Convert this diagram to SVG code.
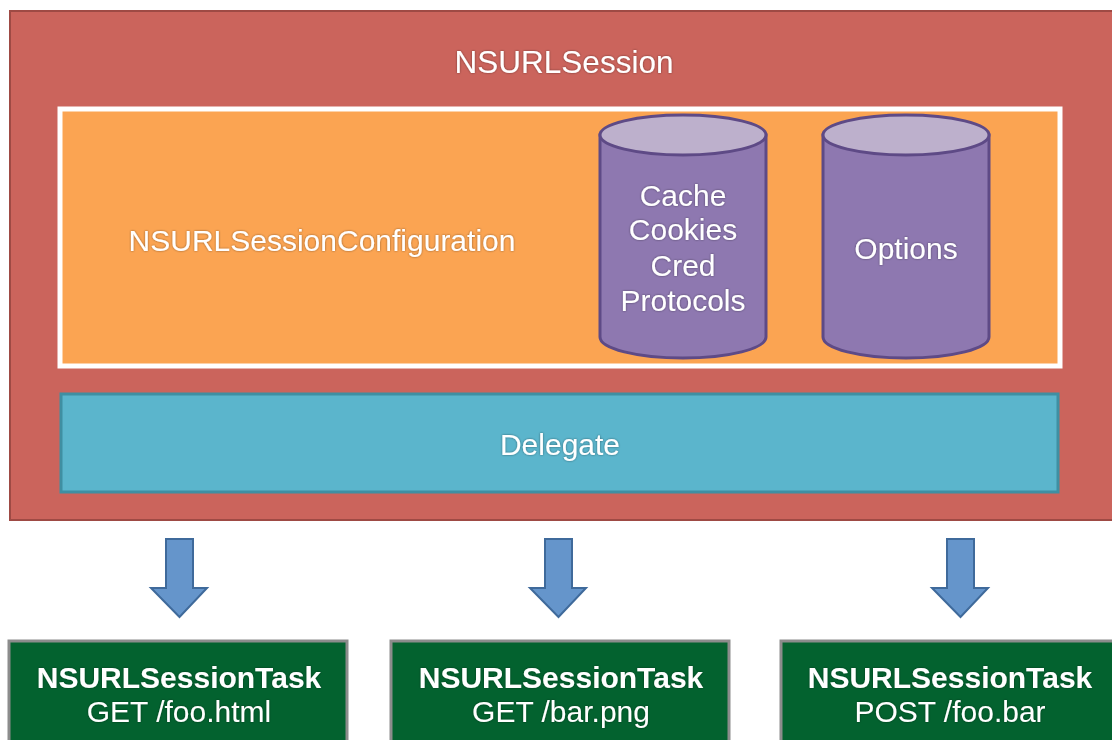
<svg xmlns="http://www.w3.org/2000/svg" width="1112" height="740" viewBox="0 0 1112 740">
<defs>
<style>
.t{font-family:"Liberation Sans",Arial,sans-serif;fill:#fff;text-anchor:middle;font-size:30px}
.cyl{fill:#8e78b0;stroke:#5e4a86;stroke-width:3}
.cyltop{fill:#bdb0cc;stroke:#5e4a86;stroke-width:3}
.arrow{fill:#6595cb;stroke:#3f6a9b;stroke-width:2}
.task{fill:#03622f;stroke:#8c8c8c;stroke-width:3}
</style>
<filter id="sh" x="-5%" y="-20%" width="110%" height="140%">
<feDropShadow dx="0" dy="0" stdDeviation="0.8" flood-color="#000" flood-opacity="0.45"/>
</filter>
</defs>
<rect width="1112" height="740" fill="#fff"/>
<g id="session">
<rect x="10" y="11" width="1110" height="509" fill="#cb645c" stroke="#9e4a44" stroke-width="2"/>
<text class="t" x="564" y="73" style="font-size:31.5px" filter="url(#sh)">NSURLSession</text>
</g>
<g id="configuration">
<rect x="60" y="109" width="1000" height="257" fill="#fba452" stroke="#fff" stroke-width="5"/>
<text class="t" x="322" y="251" filter="url(#sh)">NSURLSessionConfiguration</text>
</g>
<g id="cylinder-storage">
<path class="cyl" d="M600,135 L600,337 A83,21 0 0 0 766,337 L766,135 Z"/>
<ellipse class="cyltop" cx="683" cy="135" rx="83" ry="20"/>
<text class="t" filter="url(#sh)"><tspan x="683" y="206">Cache</tspan><tspan x="683" y="240">Cookies</tspan><tspan x="683" y="276">Cred</tspan><tspan x="683" y="311">Protocols</tspan></text>
</g>
<g id="cylinder-options">
<path class="cyl" d="M823,135 L823,337 A83,21 0 0 0 989,337 L989,135 Z"/>
<ellipse class="cyltop" cx="906" cy="135" rx="83" ry="20"/>
<text class="t" x="906" y="259" filter="url(#sh)">Options</text>
</g>
<g id="delegate">
<rect x="61" y="394" width="997" height="98" fill="#5bb5cc" stroke="#3f8fa2" stroke-width="3"/>
<text class="t" x="560" y="455" filter="url(#sh)">Delegate</text>
</g>
<g id="connectors">
<path class="arrow" d="M166,539 H193 V588 H207 L179.5,617 L151,588 H166 Z"/>
<path class="arrow" d="M545,539 H572 V588 H586 L558.5,617 L530,588 H545 Z"/>
<path class="arrow" d="M947,539 H974 V588 H988 L960.5,617 L932,588 H947 Z"/>
</g>
<g id="task1">
<rect x="9" y="641" width="338" height="110" class="task"/>
<text class="t" filter="url(#sh)"><tspan x="179" y="688" font-weight="bold">NSURLSessionTask</tspan><tspan x="179" y="722">GET /foo.html</tspan></text>
</g>
<g id="task2">
<rect x="391" y="641" width="338" height="110" class="task"/>
<text class="t" filter="url(#sh)"><tspan x="561" y="688" font-weight="bold">NSURLSessionTask</tspan><tspan x="561" y="722">GET /bar.png</tspan></text>
</g>
<g id="task3">
<rect x="781" y="641" width="340" height="110" class="task"/>
<text class="t" filter="url(#sh)"><tspan x="950" y="688" font-weight="bold">NSURLSessionTask</tspan><tspan x="950" y="722">POST /foo.bar</tspan></text>
</g>
</svg>
